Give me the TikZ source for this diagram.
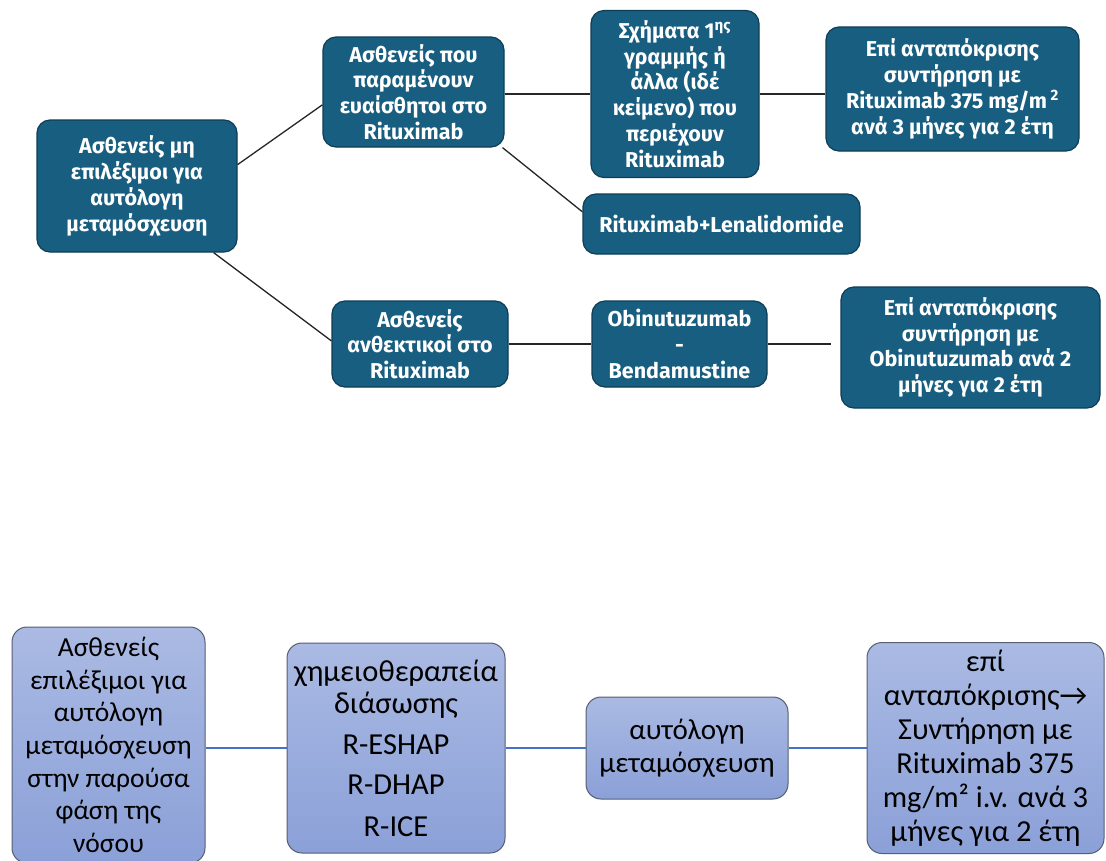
\documentclass[tikz,border=0pt]{standalone}
\usepackage{fontspec}
\setmainfont{Fira Sans}
\newfontfamily\topf{Fira Sans}
\newfontfamily\botf{Carlito}
\definecolor{topfill}{HTML}{185E80}
\definecolor{topedge}{HTML}{0E3E56}
\definecolor{bottop}{HTML}{AABAE3}
\definecolor{botbot}{HTML}{8BA0D8}
\definecolor{botedge}{HTML}{555E72}
\definecolor{bluelink}{HTML}{4472C4}
\begin{document}
\begin{tikzpicture}[x=1pt,y=-1pt,
  topbox/.style={draw=topedge, line width=1.2pt, fill=topfill, rounded corners=13pt,
    text=white, align=center, inner sep=0pt,
    font=\topf\bfseries\fontsize{21.5}{25.8}\selectfont},
  botbox/.style={draw=botedge, line width=1pt, top color=bottop, bottom color=botbot,
    rounded corners=15pt, text=black, align=center, inner sep=0pt},
  toplink/.style={draw=black!85, line width=1.3pt},
  botlink/.style={draw=bluelink, line width=1.6pt}]
\useasboundingbox (0,0) rectangle (1106,860);
\fill[white] (0,0) rectangle (1106,860);
% top part
\node[topbox, minimum width=200pt, minimum height=132pt] (A) at (137,186)
  {Ασθενείς μη\\επιλέξιμοι για\\αυτόλογη\\μεταμόσχευση};
\node[topbox, minimum width=181pt, minimum height=110pt] (B) at (413.5,92)
  {Ασθενείς που\\παραμένουν\\ευαίσθητοι στο\\Rituximab};
\node[topbox, minimum width=168pt, minimum height=167pt] (C) at (675,94)
  {Σχήματα 1\textsuperscript{ης}\\γραμμής ή\\άλλα (ιδέ\\κείμενο) που\\περιέχουν\\Rituximab};
\node[topbox, minimum width=253pt, minimum height=124pt] (D) at (952.5,89)
  {Επί ανταπόκρισης\\συντήρηση με\\Rituximab 375 mg/m\,\textsuperscript{2}\\ανά 3 μήνες για 2 έτη};
\node[topbox, minimum width=277pt, minimum height=60pt] (E) at (721.5,224)
  {Rituximab+Lenalidomide};
\node[topbox, minimum width=176pt, minimum height=86pt] (F) at (420,344)
  {Ασθενείς\\ανθεκτικοί στο\\Rituximab};
\node[topbox, minimum width=175pt, minimum height=86pt] (G) at (679.5,344)
  {Obinutuzumab\\-\\Bendamustine};
\node[topbox, minimum width=259pt, minimum height=121pt] (H) at (970.5,347.5)
  {Επί ανταπόκρισης\\συντήρηση με\\Obinutuzumab ανά 2\\μήνες για 2 έτη};
\draw[toplink] (A.12) -- (B.188);
\draw[toplink] (A.-41) -- (F.178);
\draw[toplink] (C.west -| B.east) -- (C.west);
\draw[toplink] (B.-32) -- (E.175);
\draw[toplink] (C.east) -- (C.east -| D.west);
\draw[toplink] (F.east) -- (G.west);
\draw[toplink, shorten >=9pt] (G.east) -- (G.east -| H.west);
% bottom part
\node[botbox, minimum width=193pt, minimum height=236pt,
  font=\botf\fontsize{27.5}{32.6}\selectfont] (I) at (108.5,745)
  {Ασθενείς\\επιλέξιμοι για\\αυτόλογη\\μεταμόσχευση\\στην παρούσα\\φάση της\\νόσου};
\node[botbox, minimum width=218pt, minimum height=210pt,
  font=\botf\fontsize{30.5}{32}\selectfont] (J) at (396,748)
  {χημειοθεραπεία\\διάσωσης\\[9pt]R-ESHAP\\[8pt]R-DHAP\\[10pt]R-ICE};
\node[botbox, minimum width=202pt, minimum height=102pt,
  font=\botf\fontsize{29}{33}\selectfont] (K) at (687,748)
  {αυτόλογη\\μεταμόσχευση};
\node[botbox, minimum width=237pt, minimum height=211pt,
  font=\botf\fontsize{30.5}{34}\selectfont] (L) at (985.5,748)
  {επί\\ανταπόκρισης→\\Συντήρηση με\\Rituximab 375\\mg/m² i.v. ανά 3\\μήνες για 2 έτη};
\draw[botlink] (J.west -| I.east) -- (J.west);
\draw[botlink] (J.east) -- (K.west);
\draw[botlink] (K.east) -- (L.west);
\end{tikzpicture}
\end{document}
